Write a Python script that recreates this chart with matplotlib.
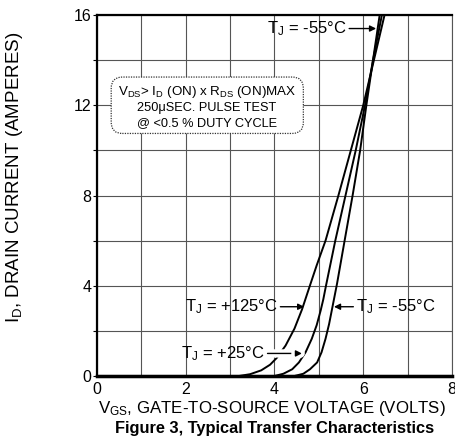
import numpy as np
import matplotlib.pyplot as plt
import matplotlib.patheffects as pe
from matplotlib.patches import FancyBboxPatch

plt.rcParams['font.family'] = ['Liberation Sans', 'DejaVu Sans']
plt.rcParams['mathtext.fontset'] = 'custom'
plt.rcParams['mathtext.rm'] = 'Liberation Sans'
plt.rcParams['mathtext.default'] = 'regular'

# transfer curves: V_GS [V] vs I_D [A]
vgs_125 = [0.0, 3.2, 3.45, 3.7, 3.9, 4.05, 4.25, 4.45, 4.62, 4.78, 4.95, 5.15, 5.44, 5.72, 6.0, 6.24, 6.48]
id_125 = [0.0, 0.0, 0.08, 0.25, 0.5, 0.8, 1.35, 2.1, 2.95, 3.9, 4.9, 6.0, 8.0, 10.0, 12.0, 14.0, 16.0]

vgs_25 = [0.0, 4.0, 4.2, 4.4, 4.55, 4.7, 4.84, 4.95, 5.04, 5.1, 5.16, 5.37, 5.6, 5.83, 6.04, 6.22, 6.42]
id_25 = [0.0, 0.0, 0.1, 0.3, 0.6, 1.05, 1.65, 2.25, 2.9, 3.4, 4.0, 6.0, 8.0, 10.0, 12.0, 14.0, 16.0]

vgs_m55 = [0.0, 4.45, 4.65, 4.8, 4.96, 5.06, 5.15, 5.23, 5.29, 5.35, 5.41, 5.58, 5.76, 5.93, 6.07, 6.22, 6.37]
id_m55 = [0.0, 0.0, 0.1, 0.3, 0.6, 1.05, 1.65, 2.3, 2.9, 3.5, 4.1, 6.0, 8.0, 10.0, 12.0, 14.0, 16.0]

x_ticks = [0, 2, 4, 6, 8]
y_ticks = [0, 4, 8, 12, 16]

fig = plt.figure(figsize=(4.56, 4.43), dpi=100)
ax = fig.add_axes([97/456, 1-376/443, 355/456, 361/443])

ax.set_xlim(0, 8)
ax.set_ylim(0, 16)
ax.set_xticks(x_ticks)
ax.set_yticks(y_ticks)
ax.set_xticks(np.arange(0, 9, 1), minor=True)
ax.set_yticks(np.arange(0, 17, 2), minor=True)
ax.grid(which='both', color='#555555', linewidth=0.8)
ax.set_axisbelow(True)
ax.tick_params(which='both', direction='out', length=3, width=0.8, labelsize=11.5, pad=1)
ax.tick_params(axis='x', which='both', length=0, pad=4)
for s in ['left', 'top']:
    ax.spines[s].set_linewidth(1.6)
ax.spines['bottom'].set_linewidth(2.2)
ax.spines['right'].set_linewidth(0.8)
ax.spines['right'].set_color('#555555')

for v, i in [(vgs_125, id_125), (vgs_25, id_25), (vgs_m55, id_m55)]:
    ax.plot(v, i, color='black', linewidth=1.4, clip_on=True, zorder=3)

ax.plot([0, 8], [0, 0], color='black', linewidth=2.5, zorder=3, clip_on=False)

arrow = dict(arrowstyle='-|>', color='black', linewidth=1.0, mutation_scale=9, shrinkA=0, shrinkB=0)
tfs = 12
ax.annotate('T$_J$ = -55°C', xy=(6.29, 15.4), xytext=(5.62, 15.4), ha='right', va='center',
            fontsize=tfs, arrowprops=arrow, zorder=5)
ax.annotate('T$_J$ = +125°C', xy=(4.67, 3.07), xytext=(4.07, 3.07), ha='right', va='center',
            fontsize=tfs, arrowprops=arrow, zorder=5)
ax.annotate('T$_J$ = -55°C', xy=(5.34, 3.07), xytext=(5.84, 3.07), ha='left', va='center',
            fontsize=tfs, arrowprops=arrow, zorder=5)
ax.annotate('T$_J$ = +25°C', xy=(4.62, 1.0), xytext=(3.78, 1.0), ha='right', va='center',
            fontsize=tfs, arrowprops=dict(arrow, path_effects=[pe.withStroke(linewidth=6, foreground='white')]),
            zorder=5)

box = FancyBboxPatch((0.32, 10.75), 4.33, 2.5, boxstyle='round,pad=0,rounding_size=0.25',
                     facecolor='white', edgecolor='#333333', linewidth=0.9, linestyle=(0, (1, 1)),
                     mutation_aspect=2.0, zorder=4)
ax.add_patch(box)
ax.text(2.48, 12.6, 'V$_{DS}$> I$_D$ (ON) x R$_{DS}$ (ON)MAX', ha='center', va='center', fontsize=9.6, zorder=5)
ax.text(2.48, 11.9, '250\u03bcSEC. PULSE TEST', ha='center', va='center', fontsize=9.2, zorder=5)
ax.text(2.48, 11.2, '@ <0.5 % DUTY CYCLE', ha='center', va='center', fontsize=9.2, zorder=5)

fig.text(272/456, 1-408/443, 'V$_{GS}$, GATE-TO-SOURCE VOLTAGE (VOLTS)', ha='center', va='center', fontsize=12.2)
fig.text(275/456, 1-429/443, 'Figure 3, Typical Transfer Characteristics', ha='center', va='center',
         fontsize=11.8, fontweight='bold')
fig.text(15/456, 1-177/443, 'I$_D$, DRAIN CURRENT (AMPERES)', ha='center', va='center', rotation=90, fontsize=13.5)

fig.savefig('out.png', dpi=100)
